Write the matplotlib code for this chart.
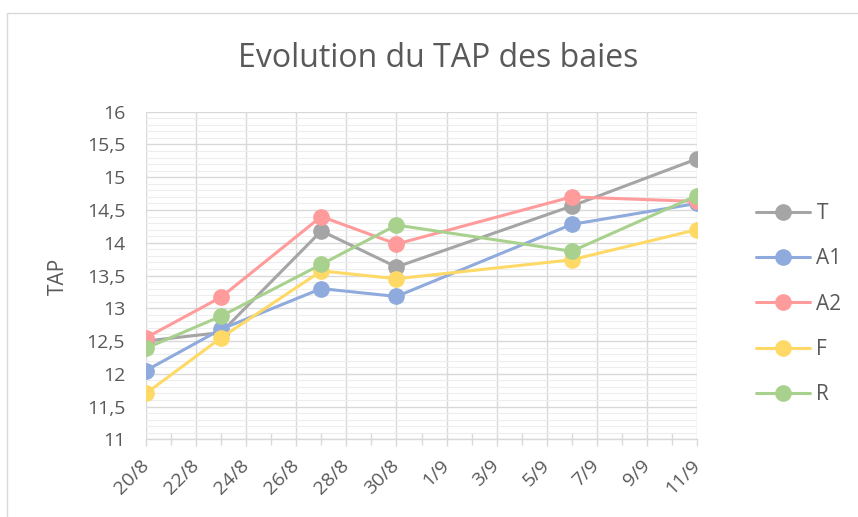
import matplotlib
matplotlib.use("Agg")
import matplotlib.pyplot as plt
import matplotlib.ticker as mticker
import matplotlib.patches as mpatches
import pandas as pd

# ---- data ----
dates = ["2020-08-20", "2020-08-23", "2020-08-27", "2020-08-30", "2020-09-06", "2020-09-11"]
T = [12.50, 12.63, 14.18, 13.63, 14.56, 15.28]
A1 = [12.05, 12.68, 13.30, 13.18, 14.28, 14.60]
A2 = [12.55, 13.17, 14.40, 13.98, 14.70, 14.63]
F = [11.70, 12.55, 13.57, 13.45, 13.74, 14.20]
R = [12.39, 12.88, 13.67, 14.27, 13.87, 14.72]
series_names = ["T", "A1", "A2", "F", "R"]
series_colors = ["#A5A5A5", "#8FAADC", "#FF9B9B", "#FFD966", "#A9D18E"]
x_start, x_end = "2020-08-20", "2020-09-11"
x_tick_labels = ["20/8", "22/8", "24/8", "26/8", "28/8", "30/8", "1/9", "3/9", "5/9", "7/9", "9/9", "11/9"]
title = "Evolution du TAP des baies"
ylabel = "TAP"

TXT = "#595959"
GRID = "#D9D9D9"
MINOR = "#EDEDED"
FONT = "Open Sans"

plt.rcParams["font.family"] = [FONT, "DejaVu Sans"]

W, H = 858, 517
fig = plt.figure(figsize=(W / 100, H / 100), dpi=100)
fig.patch.set_facecolor("white")

# outer chart border
fig.patches.append(mpatches.Rectangle((6.5 / W, -0.1), 1.2, 1 - 13 / H + 0.1,
                                      transform=fig.transFigure, fill=False,
                                      edgecolor=GRID, lw=1.0))

left, right, top, bottom = 146, 697, 111.7, 439.3
ax = fig.add_axes([left / W, 1 - bottom / H, (right - left) / W, (bottom - top) / H])

x = pd.to_datetime(dates)
for name, vals, col in zip(series_names, [T, A1, A2, F, R], series_colors):
    ax.plot(x, vals, color=col, lw=2.2, marker="o", markersize=11,
            markerfacecolor=col, markeredgecolor=col, label=name, zorder=3,
            solid_capstyle="round")

ax.set_xlim(pd.Timestamp(x_start), pd.Timestamp(x_end))
ax.set_ylim(11, 16)

major_x = pd.date_range(x_start, x_end, freq="2D")
minor_x = pd.date_range(x_start, x_end, freq="1D")
ax.xaxis.set_major_locator(mticker.FixedLocator(matplotlib.dates.date2num(major_x)))
ax.xaxis.set_minor_locator(mticker.FixedLocator(matplotlib.dates.date2num(minor_x)))
ax.set_xticklabels(x_tick_labels)

ax.yaxis.set_major_locator(mticker.MultipleLocator(0.5))
ax.yaxis.set_minor_locator(mticker.MultipleLocator(0.1))
ax.yaxis.set_major_formatter(mticker.FuncFormatter(lambda v, p: f"{v:g}".replace(".", ",")))

ax.set_axisbelow(True)
ax.grid(which="major", axis="both", color=GRID, lw=1.0)
ax.grid(which="minor", axis="y", color=MINOR, lw=0.8)

for s in ["top", "right", "left"]:
    ax.spines[s].set_visible(False)
ax.spines["bottom"].set_color(GRID)
ax.spines["bottom"].set_linewidth(1.0)

ax.tick_params(axis="y", which="both", length=0, pad=15, labelsize=14, labelcolor=TXT)
ax.tick_params(axis="x", which="major", length=5, color=GRID, width=1.0, direction="out",
               pad=12, labelsize=14, labelcolor=TXT)
ax.tick_params(axis="x", which="minor", length=8, color=GRID, width=1.0, direction="inout")
for lab in ax.get_xticklabels():
    lab.set_rotation(45)
    lab.set_ha("right")
    lab.set_va("center")
    lab.set_rotation_mode("anchor")

fig.text(438.5 / W, 1 - 66.7 / H, title, ha="center", va="baseline", fontsize=23, color=TXT)
fig.text(58 / W, 1 - 276 / H, ylabel, ha="center", va="center", rotation=90, fontsize=15, color=TXT)

leg = ax.legend(loc="upper left", bbox_to_anchor=(756 / W, 1 - 203 / H),
                bbox_transform=fig.transFigure, frameon=False, fontsize=15,
                handlelength=2.6, handletextpad=0.3, labelspacing=1.17, borderpad=0,
                borderaxespad=0)
for t in leg.get_texts():
    t.set_color(TXT)

fig.savefig("out.png", dpi=100)
